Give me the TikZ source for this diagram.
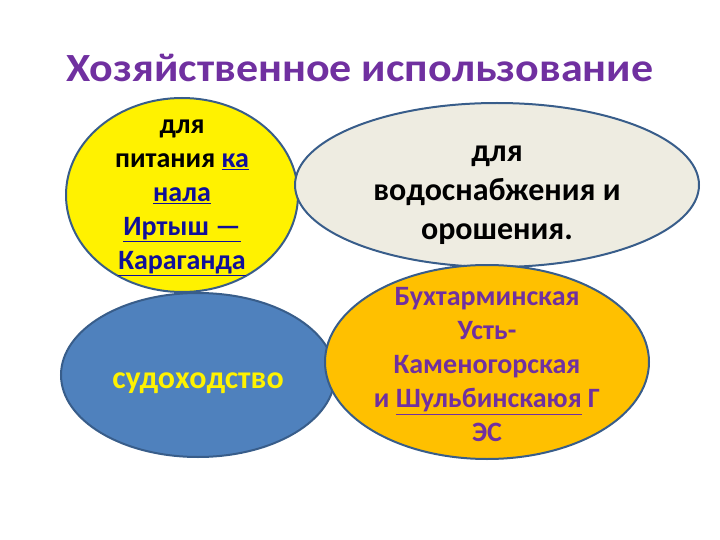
\documentclass[tikz,border=0pt]{standalone}
\usepackage{graphicx}
\usepackage{fontspec}
\setmainfont{Carlito}
\usetikzlibrary{shapes.geometric}
\definecolor{edge}{HTML}{385D8A}
\definecolor{plum}{HTML}{7030A0}
\definecolor{link}{HTML}{101099}
\definecolor{paper}{HTML}{EEECE1}
\definecolor{sea}{HTML}{4F81BD}
\definecolor{amber}{HTML}{FFC000}

\begin{document}
\begin{tikzpicture}[x=1pt,y=-1pt,
    blob/.style={ellipse,draw=edge,line width=2pt,inner sep=0pt},
    words/.style={align=center,font=\fontsize{28}{34}\selectfont\bfseries},
    bigwords/.style={align=center,font=\fontsize{32}{39}\selectfont\bfseries}]
    \useasboundingbox (0,0) rectangle (720,540);

    \node[font=\fontsize{40}{44}\selectfont\bfseries,text=plum] (title) at (360,68)
        {\scalebox{1.1}[1]{Хозяйственное использование}};

    \node[blob,fill=yellow,minimum width=232,minimum height=194] (yel) at (182,195) {};
    \node[blob,fill=paper,minimum width=404,minimum height=164] (gry) at (497,185) {};
    \node[blob,fill=sea,minimum width=274,minimum height=164] (blu) at (198,375) {};
    \node[blob,fill=amber,minimum width=324,minimum height=194] (org) at (487,362) {};

    \node[words] (t1) at ([yshift=-3]yel) {для\\питания \textcolor{link}{\underline{ка}}\\
        \textcolor{link}{\underline{нала}}\\\textcolor{link}{\underline{Иртыш~—}}\\
        \textcolor{link}{\underline{Караганда}}};
    \node[bigwords] (t2) at ([yshift=-10]gry) {для\\водоснабжения и\\орошения.};
    \node[bigwords,text=yellow] (t3) at ([yshift=-8]blu) {судоходство};
    \node[words,text=plum] (t4) at ([yshift=-3]org) {Бухтарминская\\Усть-\\Каменогорская\\
        и \underline{Шульбинскаюя} Г\\ЭС};
\end{tikzpicture}
\end{document}
